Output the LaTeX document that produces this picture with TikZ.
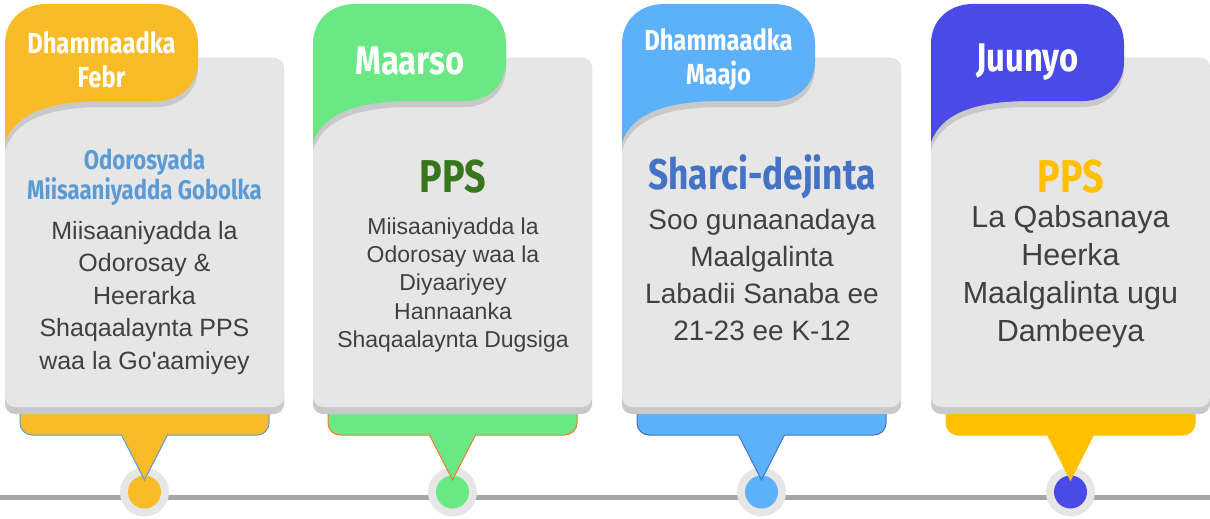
\documentclass[tikz,border=0pt]{standalone}
\usepackage{fontspec}
\setmainfont{Liberation Sans}[Ligatures=TeXOff]
\newfontfamily\headfont[FakeStretch=0.82]{Fira Sans}
\definecolor{tabA}{HTML}{F9BC28}
\definecolor{tabB}{HTML}{6AE884}
\definecolor{tabC}{HTML}{5DB1FA}
\definecolor{tabD}{HTML}{4A4AE6}
\definecolor{baseD}{HTML}{FFC000}
\definecolor{edgeA}{HTML}{5B9BD5}
\definecolor{edgeB}{HTML}{ED7D31}
\definecolor{edgeC}{HTML}{4472C4}
\definecolor{cardgray}{HTML}{E6E6E6}
\definecolor{shadowgray}{HTML}{C9C9C9}
\definecolor{linegray}{HTML}{A6A6A6}
\definecolor{bodytext}{HTML}{404040}
\definecolor{ppsgreen}{HTML}{38761D}
\tikzset{
  month/.style={text=white,align=center,inner sep=0pt,font=\headfont\bfseries\fontsize{29}{34}\selectfont},
  title/.style={align=center,inner sep=0pt,font=\headfont\bfseries\fontsize{46}{50}\selectfont},
  body/.style={text=bodytext,align=center,inner sep=0pt}
}
\begin{document}
\begin{tikzpicture}[x=1pt,y=-1pt]
\useasboundingbox (0,0) rectangle (1210,519);
% timeline
\coordinate (tlW) at (0,497);
\coordinate (tlE) at (1210,497);
\draw[linegray,line width=5] (tlW) -- (tlE);
% cards
\foreach \L/\tab/\base/\edge in {5/tabA/tabA/edgeA,313/tabB/tabB/edgeB,622/tabC/tabC/edgeC,931/tabD/baseD/baseD}{
  \fill[cardgray] (\L+139.5,492) circle (24.5);
  \fill[\tab] (\L+139.5,492) circle (16.5);
  \filldraw[fill=\base,draw=\edge,line width=1,rounded corners=12] (\L+15,400) -- (\L+15,435) -- (\L+264,435) -- (\L+264,400);
  \fill[\base] (\L+116.5,434) -- (\L+162.5,434) -- (\L+139.5,480) -- cycle;
  \draw[\edge,line width=1] (\L+116.5,435) -- (\L+139.5,480) -- (\L+162.5,435);
  \fill[shadowgray,rounded corners=10] (\L,58) rectangle (\L+279,414);
  \fill[cardgray,rounded corners=10] (\L,58) rectangle (\L+279,407);
  \fill[shadowgray] (\L,150) -- (\L,44) -- (\L+193,44) -- (\L+193,68) .. controls (\L+193,90) and (\L+176,107) .. (\L+152,107) -- (\L+100,107) .. controls (\L+40,107) and (\L+10,121) .. (\L,150) -- cycle;
  \fill[\tab] (\L,142) -- (\L,44) .. controls (\L,20) and (\L+18,4) .. (\L+42,4) -- (\L+152,4) .. controls (\L+176,4) and (\L+193,20) .. (\L+193,44) -- (\L+193,62) .. controls (\L+193,84) and (\L+176,101) .. (\L+152,101) -- (\L+100,101) .. controls (\L+40,101) and (\L+10,115) .. (\L,142) -- cycle;
}
% months
\node[month] (mA) at (101.5,60) {Dhammaadka\\Febr};
\node[month,font=\headfont\bfseries\fontsize{40}{44}\selectfont] (mB) at (410,61) {Maarso};
\node[month] (mC) at (718.5,60) {Dhammaadka\\Maajo};
\node[month,font=\headfont\bfseries\fontsize{40}{44}\selectfont] (mD) at (1027.5,62) {Juunyo};
% titles
\node[title,text=edgeA,font=\headfont\bfseries\fontsize{27}{30}\selectfont] (hA) at (144.5,177) {Odorosyada\\Miisaaniyadda Gobolka};
\node[title,text=ppsgreen] (hB) at (453,177) {PPS};
\node[title,text=edgeC,font=\headfont\bfseries\fontsize{43}{46}\selectfont] (hC) at (762,177) {Sharci-dejinta};
\node[title,text=baseD] (hD) at (1070.5,177) {PPS};
% texts
\node[body,font=\fontsize{25}{32.5}\selectfont] (bA) at (144.5,298) {Miisaaniyadda la\\Odorosay \&\\Heerarka\\Shaqaalaynta PPS\\waa la Go'aamiyey};
\node[body,font=\fontsize{23}{28.2}\selectfont] (bB) at (453,285) {Miisaaniyadda la\\Odorosay waa la\\Diyaariyey\\Hannaanka\\Shaqaalaynta Dugsiga};
\node[body,font=\fontsize{28}{37}\selectfont] (bC) at (762,275) {Soo gunaanadaya\\Maalgalinta\\Labadii Sanaba ee\\21-23 ee K-12};
\node[body,font=\fontsize{30.5}{38}\selectfont] (bD) at (1070.5,277) {La Qabsanaya\\Heerka\\Maalgalinta ugu\\Dambeeya};
\end{tikzpicture}
\end{document}
